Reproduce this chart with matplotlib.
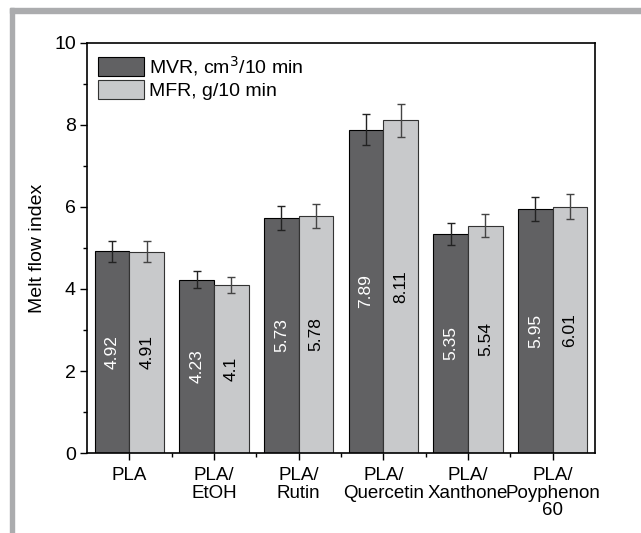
import numpy as np
import matplotlib
matplotlib.use('Agg')
import matplotlib.pyplot as plt
from matplotlib import rcParams
from matplotlib.patches import Rectangle

rcParams['font.family'] = ['Liberation Sans', 'DejaVu Sans']
rcParams['font.size'] = 14

# === ДАННЫЕ ===
samples = ['PLA', 'PLA/\nEtOH', 'PLA/\nRutin', 'PLA/\nQuercetin', 'PLA/\nXanthone', 'PLA/\nPoyphenon\n60']
mvr = [4.92, 4.23, 5.73, 7.89, 5.35, 5.95]
mfr = [4.91, 4.10, 5.78, 8.11, 5.54, 6.01]
mvr_err = [0.25, 0.21, 0.29, 0.39, 0.27, 0.30]
mfr_err = [0.25, 0.20, 0.29, 0.40, 0.28, 0.30]
mvr_txt = ['4.92', '4.23', '5.73', '7.89', '5.35', '5.95']
mfr_txt = ['4.91', '4.1', '5.78', '8.11', '5.54', '6.01']

c_dark = '#616163'
c_light = '#c8c9cb'

fig = plt.figure(figsize=(6.41, 5.33), dpi=100)
ax = fig.add_axes([87 / 641, 80 / 533, 508 / 641, 410 / 533])

# серая рамка слева и сверху
fig.patches.append(Rectangle((10 / 641, 0), 4 / 641, 525 / 533, transform=fig.transFigure,
                             color='#abacae', zorder=0))
fig.patches.append(Rectangle((10 / 641, 520 / 533), 631 / 641, 5 / 533, transform=fig.transFigure,
                             color='#abacae', zorder=0))

x = np.arange(len(samples))
w = 0.41
ax.bar(x - w / 2, mvr, w, color=c_dark, edgecolor='black', linewidth=0.8,
       label='MVR, cm$^3$/10 min', zorder=2)
ax.bar(x + w / 2, mfr, w, color=c_light, edgecolor='#333333', linewidth=0.8,
       label='MFR, g/10 min', zorder=2)
ax.errorbar(x - w / 2, mvr, yerr=mvr_err, fmt='none', ecolor='#222222', elinewidth=1,
            capsize=3, capthick=1, zorder=3)
ax.errorbar(x + w / 2, mfr, yerr=mfr_err, fmt='none', ecolor='#444444', elinewidth=1,
            capsize=3, capthick=1, zorder=3)

for i in range(len(samples)):
    ax.text(x[i] - w / 2, mvr[i] / 2, mvr_txt[i], rotation=90, ha='center', va='center',
            color='white', fontsize=12.5, zorder=4)
    ax.text(x[i] + w / 2, mfr[i] / 2, mfr_txt[i], rotation=90, ha='center', va='center',
            color='black', fontsize=12.5, zorder=4)

ax.set_xlim(-0.5, len(samples) - 0.5)
ax.set_ylim(0, 10)
ax.set_yticks([0, 2, 4, 6, 8, 10])
ax.set_yticks([1, 3, 5, 7, 9], minor=True)
ax.set_xticks(x)
ax.set_xticklabels(samples, linespacing=1.05, fontsize=13.5)
ax.set_xticks(np.arange(0.5, len(samples) - 0.5), minor=True)
ax.tick_params(axis='both', which='major', direction='out', length=5, width=1)
ax.tick_params(axis='both', which='minor', direction='out', length=3, width=1)
ax.tick_params(axis='x', which='major', pad=5)
ax.tick_params(axis='y', which='major', pad=3)
for s in ax.spines.values():
    s.set_linewidth(1.2)

ax.set_ylabel('Melt flow index', labelpad=6)

ax.legend(loc='upper left', frameon=False, borderaxespad=0.35, handlelength=2.4,
          handleheight=1.15, handletextpad=0.25, labelspacing=0.12, borderpad=0.2)

fig.savefig('out.png', dpi=100)
